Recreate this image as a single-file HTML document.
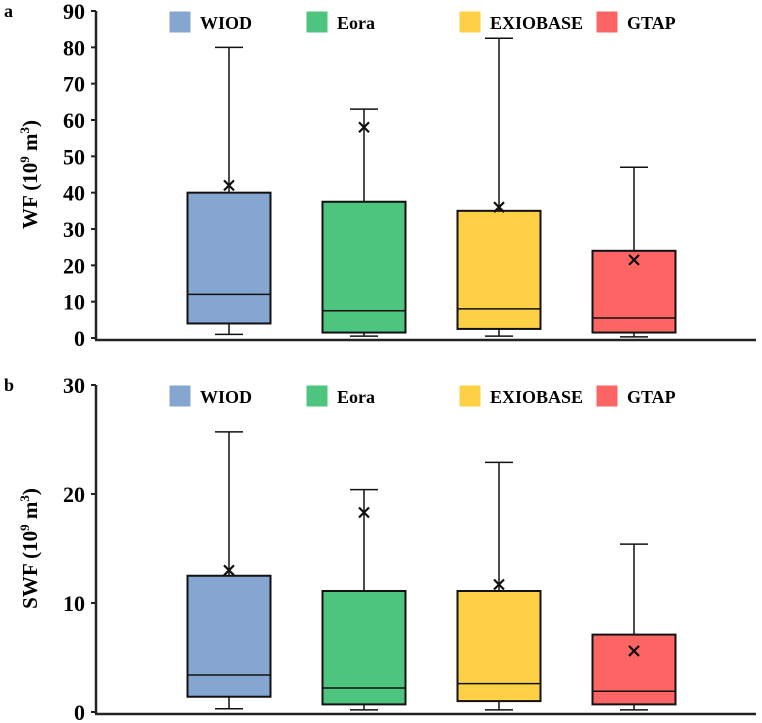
<!DOCTYPE html>
<html><head><meta charset="utf-8"><style>
html,body{margin:0;padding:0;background:#fff;}
svg{display:block;font-family:"Liberation Serif",serif;font-weight:bold;}
</style></head><body>
<svg id="chart" width="762" height="723"></svg>
<script>
const categories=["WIOD","Eora","EXIOBASE","GTAP"];
const colors=["#84a6d0","#4dc57f","#fdd046","#fd6464"];
const wfMin=[1,0.5,0.5,0.3];
const wfQ1=[4,1.5,2.5,1.5];
const wfMed=[12,7.5,8,5.5];
const wfQ3=[40,37.5,35,24];
const wfMax=[80,63,82.5,47];
const wfMean=[42,58,36,21.5];
const wfTicks=[0,10,20,30,40,50,60,70,80,90];
const swfMin=[0.3,0.2,0.2,0.2];
const swfQ1=[1.4,0.7,1.0,0.7];
const swfMed=[3.4,2.2,2.6,1.9];
const swfQ3=[12.5,11.1,11.1,7.1];
const swfMax=[25.7,20.4,22.9,15.4];
const swfMean=[13,18.3,11.7,5.6];
const swfTicks=[0,10,20,30];

const NS="http://www.w3.org/2000/svg";
const svg=document.getElementById("chart");
function mk(tag,attrs,parent){const e=document.createElementNS(NS,tag);for(const k in attrs)e.setAttribute(k,attrs[k]);(parent||svg).appendChild(e);return e;}

function panel(p){
  const g=mk("g",{});
  
  
  const y=v=>p.y0-(v/p.ymax)*(p.y0-p.y1);
  const xc=i=>229+i*135;
  const L=mk("text",{x:4,y:p.y1+6,"font-size":18},g);L.textContent=p.letter;
  
  const ax=mk("line",{x1:96,x2:96,y1:p.y1,y2:p.y0+2,stroke:"#222","stroke-width":2.5},g);
  
  const xa=mk("line",{x1:95,x2:756,y1:p.y0+2,y2:p.y0+2,stroke:"#222","stroke-width":2.5},g);
  
  p.ticks.forEach(t=>{
    const tk=mk("line",{x1:91,x2:96,y1:y(t),y2:y(t),stroke:"#222","stroke-width":2},g);
    
    const tl=mk("text",{x:85,y:y(t)+8,"text-anchor":"end","font-size":22},g);tl.textContent=t;
    
  });
  const cy=(p.y0+p.y1)/2;
  const yt=mk("text",{transform:`translate(37,${cy}) rotate(-90)`,"text-anchor":"middle","font-size":21},g);
  yt.innerHTML=p.title+' (10<tspan font-size="13" dy="-8">9</tspan><tspan dy="8"> m</tspan><tspan font-size="13" dy="-8">3</tspan><tspan dy="8">)</tspan>';
  
  const lx=[170,307,460,597];
  categories.forEach((c,i)=>{
    const r=mk("rect",{x:lx[i],y:p.y1+1,width:20,height:20,fill:colors[i],stroke:colors[i]},g);
    
    const t=mk("text",{x:lx[i]+30,y:p.y1+18,"font-size":18},g);t.textContent=c;
    
  });
  categories.forEach((c,i)=>{
    const x=xc(i),w=83;
    const wh=mk("line",{x1:x,x2:x,y1:y(p.max[i]),y2:y(p.min[i]),stroke:"#111","stroke-width":1.5},g);
    
    [p.max[i],p.min[i]].forEach(v=>{
      const cap=mk("line",{x1:x-14,x2:x+14,y1:y(v),y2:y(v),stroke:"#111","stroke-width":1.5},g);
      
    });
    const b=mk("rect",{x:x-w/2,y:y(p.q3[i]),width:w,height:y(p.q1[i])-y(p.q3[i]),fill:colors[i],stroke:"#111","stroke-width":2},g);
    
    const m=mk("line",{x1:x-w/2,x2:x+w/2,y1:y(p.med[i]),y2:y(p.med[i]),stroke:"#111","stroke-width":1.5},g);
    
    const my=y(p.mean[i]);
    const mm=mk("path",{d:`M${x-5},${my-5}L${x+5},${my+5}M${x-5},${my+5}L${x+5},${my-5}`,stroke:"#111","stroke-width":2.2},g);
    
  });
}
panel({name:"panel-a-wf",letter:"a",title:"WF",y0:338,y1:11,ymax:90,ticks:wfTicks,min:wfMin,q1:wfQ1,med:wfMed,q3:wfQ3,max:wfMax,mean:wfMean});
panel({name:"panel-b-swf",letter:"b",title:"SWF",y0:712,y1:385,ymax:30,ticks:swfTicks,min:swfMin,q1:swfQ1,med:swfMed,q3:swfQ3,max:swfMax,mean:swfMean});
</script>
</body></html>
